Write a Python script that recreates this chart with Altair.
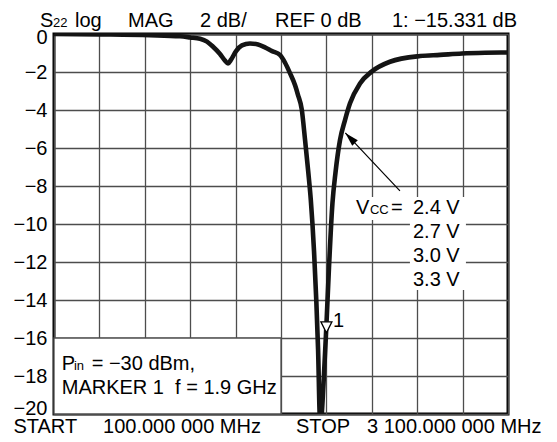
import altair as alt
import pandas as pd

# ---- data (frequency in MHz, S22 in dB) ----
freq_mhz = [100, 404, 734, 933, 999, 1065, 1111, 1151, 1197, 1230, 1250, 1270, 1303,
            1342, 1395, 1448, 1494, 1541, 1593, 1626, 1660, 1693, 1712, 1737, 1759,
            1781, 1797, 1818, 1845, 1858, 1864, 1881, 1900, 1917, 1940, 1960, 1990,
            2023, 2056, 2122, 2199, 2320, 2519, 2651, 2796, 2948, 3100]
s22_db = [0, -0.02, -0.06, -0.12, -0.18, -0.25, -0.4, -0.67, -1.05, -1.4, -1.55, -1.35, -0.9,
          -0.6, -0.5, -0.55, -0.7, -0.9, -1.1, -1.5, -2.07, -2.7, -3.2, -3.96, -5.58,
          -7.33, -8.74, -11.4, -16.6, -20.3, -20.3, -18.4, -15.331, -12.3, -8.9, -7.3, -5.58,
          -4.53, -3.65, -2.6, -1.98, -1.46, -1.16, -1.1, -1.03, -0.99, -0.97]

x_grid = list(range(100, 3101, 300))
y_ticks = list(range(-20, 1, 2))

marker_freq = [1900]
marker_db = [-15.331]

# annotation texts and their anchor positions (MHz, dB) and font sizes
ann_text = ["S", "22", "log", "MAG", "2 dB/", "REF 0 dB", "1: \u221215.331 dB",
            "V", "CC", "=", "2.4 V", "2.7 V", "3.0 V", "3.3 V",
            "1",
            "P", "in", "= \u221230 dBm,", "MARKER 1\u00a0\u00a0f = 1.9 GHz",
            "START", "100.000 000 MHz", "STOP", "3 100.000 000 MHz"]
ann_f = [7.5, 93, 239, 589, 1065, 1560, 2333,
         2096, 2188, 2327, 2472, 2472, 2472, 2472,
         1944,
         151, 232, 349, 151,
         -168, 424, 1699, 2168]
ann_db = [0.368, 0.368, 0.368, 0.368, 0.368, 0.368, 0.368,
          -9.47, -9.47, -9.47, -9.47, -10.74, -12.0, -13.26,
          -15.42,
          -17.68, -17.68, -17.68, -18.95,
          -21.0, -21.0, -21.0, -21.0]
ann_fs = [20, 13, 20, 20, 20, 20, 20,
          20, 13, 20, 20, 20, 20, 20,
          20,
          20, 13, 20, 20,
          20, 20, 20, 20]

# white boxes behind labels (MHz, dB)
box_f1 = [2082, 2452, 100]
box_f2 = [2822, 2822, 1600]
box_d1 = [-8.58, -9.79, -16]
box_d2 = [-9.79, -13.47, -20]
box_stroke = ["none", "none", "yes"]

# arrow from label to trace
arrow_f = [2386]
arrow_f2 = [2025]
arrow_d = [-8.26]
arrow_d2 = [-5.2]
head_f = [2057]
head_d = [-5.47]

FONT = "Liberation Sans"
GRID = "#4d4d4d"

curve = pd.DataFrame({"x": freq_mhz, "y": s22_db, "i": range(len(freq_mhz))})
ann = pd.DataFrame({"x": ann_f, "y": ann_db, "t": ann_text, "fs": ann_fs})
boxes = pd.DataFrame({"x": box_f1, "x2": box_f2, "y": box_d1, "y2": box_d2, "s": box_stroke})
arrow = pd.DataFrame({"x": arrow_f, "x2": arrow_f2, "y": arrow_d, "y2": arrow_d2})
head = pd.DataFrame({"x": head_f, "y": head_d})
marker = pd.DataFrame({"x": marker_freq, "y": marker_db})

xs = alt.Scale(domain=[100, 3100], nice=False, zero=False)
ys = alt.Scale(domain=[-20, 0], nice=False, zero=False)

x_axis = alt.Axis(values=x_grid, labels=False, ticks=False, domain=False, grid=True,
                  gridColor=GRID, gridWidth=1.3, gridOpacity=1, title=None)
y_axis = alt.Axis(values=y_ticks, ticks=False, domain=False, grid=True, gridColor=GRID,
                  gridWidth=1.3, gridOpacity=1, labelFont=FONT, labelFontSize=20,
                  labelColor="black", labelPadding=7, title=None,
                  labelOverlap=False, labelBaseline="middle",
                  labelOffset={"condition": [{"test": "datum.value == 0", "value": 3},
                                             {"test": "datum.value == -20", "value": -6}],
                               "value": 0},
                  labelExpr="datum.value == 0 ? '0' : '\u2212' + format(-datum.value, 'd')")

X = alt.X("x:Q", scale=xs, axis=x_axis)
Y = alt.Y("y:Q", scale=ys, axis=y_axis)
X2 = alt.X2("x2:Q")
Y2 = alt.Y2("y2:Q")

rects_plain = alt.Chart(boxes).transform_filter("datum.s == 'none'").mark_rect(
    fill="white").encode(x=X, x2=X2, y=Y, y2=Y2)
rects_stroked = alt.Chart(boxes).transform_filter("datum.s == 'yes'").mark_rect(
    fill="white", stroke=GRID, strokeWidth=1.3).encode(x=X, x2=X2, y=Y, y2=Y2)

line = alt.Chart(curve).mark_line(
    color="#141414", strokeWidth=4.6, clip=True, interpolate="monotone").encode(
    x=X, y=Y, order="i:Q")

arrow_line = alt.Chart(arrow).mark_rule(color="black", strokeWidth=1.2).encode(
    x=X, x2=X2, y=Y, y2=Y2)

arrow_head = alt.Chart(head).mark_point(
    shape="M0,-1L0.55,1L-0.55,1Z", filled=True, color="black", size=196,
    angle=316, opacity=1).encode(x=X, y=Y)

mark_tri = alt.Chart(marker).mark_point(
    shape="M-1,-1L1,-1L0,1Z", filled=True, fill="white", stroke="black",
    strokeWidth=1.3, size=121, opacity=1, yOffset=2).encode(x=X, y=Y)

texts = alt.Chart(ann).mark_text(align="left", baseline="alphabetic", font=FONT,
                                 color="black").encode(
    x=X, y=Y, text="t:N", size=alt.Size("fs:Q", scale=None, legend=None))

chart = alt.layer(rects_plain, rects_stroked, line, arrow_line, arrow_head,
                  mark_tri, texts).properties(
    width=454, height=380, autosize=alt.AutoSizeParams(type="none"),
    padding={"left": 46, "top": 26, "right": 41, "bottom": 20},
    background="white",
).configure_view(stroke="black", strokeWidth=3)

chart.save("out.html", embed_options={"renderer": "svg", "actions": False})
